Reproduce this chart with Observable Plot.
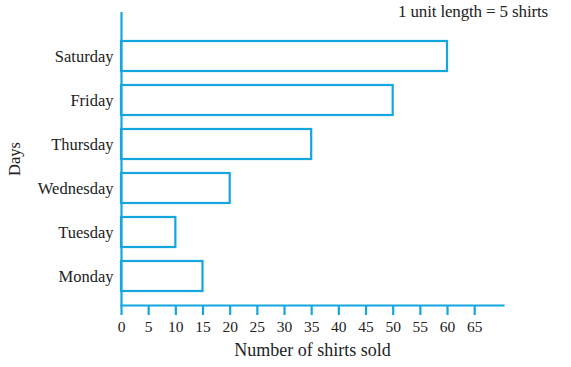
<!DOCTYPE html>
<html><head>
<meta charset="utf-8">
<script src="https://cdn.jsdelivr.net/npm/d3@7"></script>
<script src="https://cdn.jsdelivr.net/npm/@observablehq/plot@0.6"></script>
<style>
body{margin:0;background:#fff}
#c{position:relative;width:571px;height:367px}
#note{position:absolute;right:23px;top:2px;font:17px "Liberation Serif";color:#222;letter-spacing:-0.15px}
</style></head><body>
<div id="c"><div id="note"></div></div>
<script>
const days = ["Saturday","Friday","Thursday","Wednesday","Tuesday","Monday"];
const shirts = [60,50,35,20,10,15];
const xTicks = [0,5,10,15,20,25,30,35,40,45,50,55,60,65];
const note = "1 unit length = 5 shirts";
const xLabel = "Number of shirts sold";
const yLabel = "Days";
const data = days.map((d,i)=>({day:d, shirts:shirts[i]}));
const blue = "#14a6e0";
document.getElementById("note").textContent = note;
const chart = Plot.plot({
  width:571, height:367, marginLeft:121, marginRight:68, marginTop:12, marginBottom:62,
  style:{fontFamily:"Liberation Serif", fontSize:"15px", color:"#222", background:"#fff"},
  x:{domain:[0,70.3]},
  y:{domain:days, padding:0.32, insetTop:14},
  marks:[
    Plot.barX(data,{y:"day", x:"shirts", fill:"white", stroke:blue, strokeWidth:2.2}),
    Plot.ruleX([0],{stroke:blue, strokeWidth:2.2}),
    Plot.frame({anchor:"bottom", stroke:blue, strokeWidth:2.2}),
    Plot.axisX({ticks:xTicks, tickSize:10, stroke:blue, strokeWidth:2.2, fill:"#222", fontSize:15.5, label:null, tickPadding:5, tickFormat:d=>String(d)}),
    Plot.text([xLabel], {frameAnchor:"bottom", dy:50, fontSize:18, fill:"#222", text:d=>d}),
    Plot.axisY({tickSize:0, tickPadding:8, fill:"#222", fontSize:16.5, label:yLabel, labelAnchor:"center", labelOffset:113})
  ]
});
document.getElementById("c").appendChild(chart);
</script>
</body></html>
